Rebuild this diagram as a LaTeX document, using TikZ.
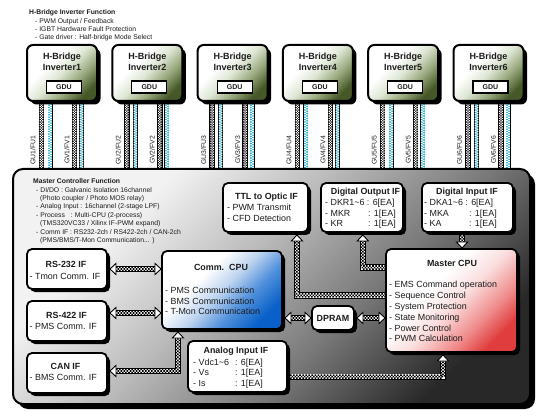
\documentclass[tikz,border=0pt]{standalone}
\usepackage{fontspec}
\setmainfont{Liberation Sans}
\usetikzlibrary{shadows,calc,decorations.markings}
\definecolor{cab}{RGB}{40,176,205}
\definecolor{inv1}{RGB}{70,88,40}
\definecolor{inv2}{RGB}{150,166,122}
\definecolor{inv3}{RGB}{222,230,212}
\definecolor{blu1}{RGB}{8,96,200}
\definecolor{blu2}{RGB}{80,144,220}
\definecolor{blu3}{RGB}{190,212,240}
\definecolor{red1}{RGB}{224,62,62}
\definecolor{red2}{RGB}{240,140,140}
\definecolor{red3}{RGB}{250,222,222}
\definecolor{gr1}{RGB}{40,40,40}
\definecolor{gr2}{RGB}{120,120,120}
\definecolor{gr3}{RGB}{186,186,186}
\definecolor{gr4}{RGB}{242,242,242}
\definecolor{txt}{RGB}{28,28,28}
\pgfdeclareverticalshading{invsh}{100bp}{color(0bp)=(inv1); color(25bp)=(inv1); color(37bp)=(inv2); color(50bp)=(inv3); color(62bp)=(white); color(100bp)=(white)}
\pgfdeclareverticalshading{blush}{100bp}{color(0bp)=(blu1); color(25bp)=(blu1); color(38bp)=(blu2); color(50bp)=(blu3); color(62bp)=(white); color(100bp)=(white)}
\pgfdeclareverticalshading{redsh}{100bp}{color(0bp)=(red1); color(25bp)=(red1); color(35bp)=(red2); color(48bp)=(red3); color(60bp)=(white); color(100bp)=(white)}
\pgfdeclareverticalshading{greysh}{100bp}{color(0bp)=(gr1); color(25bp)=(gr1); color(40bp)=(gr2); color(55bp)=(gr3); color(70bp)=(gr4); color(100bp)=(gr4)}
\pgfdeclarelayer{lcab}
\pgfdeclarelayer{lmain}
\pgfdeclarelayer{lflow}
\pgfsetlayers{lcab,lmain,lflow,main}
\tikzset{
  flow/.style={draw=black, line width=6.4pt, line join=miter,
    postaction={draw=white, line width=4.6pt, line join=miter},
    postaction={decorate, decoration={markings,
      mark=between positions 0 and 1 step 3.06pt with {%
        \fill[black] (0,-2.3pt) rectangle (1.53pt,-0.77pt)
          (1.53pt,-0.77pt) rectangle (3.06pt,0.77pt)
          (0,0.77pt) rectangle (1.53pt,2.3pt);}}}},
  ahE/.style={postaction={decorate, decoration={markings,
      mark=at position 1 with {%
        \draw[black, fill=white, line width=0.9pt, line join=miter]
          (0,-5.6pt) -- (6pt,0) -- (0,5.6pt) -- cycle;}}}},
  ahS/.style={postaction={decorate, decoration={markings,
      mark=at position 0 with {%
        \draw[black, fill=white, line width=0.9pt, line join=miter]
          (0,-5.6pt) -- (-6pt,0) -- (0,5.6pt) -- cycle;}}}},
  bcable/.style={draw=black, line width=5.4pt,
    postaction={decorate, decoration={markings,
      mark=between positions 0 and 1 step 2.4pt with {%
        \fill[white] (0,-1.8pt) rectangle (1.2pt,-0.6pt)
          (1.2pt,-0.6pt) rectangle (2.4pt,0.6pt)
          (0,0.6pt) rectangle (1.2pt,1.8pt);}}}},
  ccable/.style={draw=black, line width=5pt,
    postaction={draw=cab, line width=3.6pt},
    postaction={decorate, decoration={markings,
      mark=between positions 0 and 1 step 2.4pt with {%
        \fill[white] (0,-1.8pt) rectangle (1.2pt,0)
          (1.2pt,0) rectangle (2.4pt,1.8pt);}}}},
  shd/.style={drop shadow={shadow xshift=#1, shadow yshift=-#1, fill=black, opacity=1}},
  mainbox/.style={draw=black, line width=2pt, rounded corners=10pt, shape=rectangle, inner sep=0, outer sep=0,
    shade, shading=greysh, shading angle=45, shd=5pt},
  invbox/.style={draw=black, line width=2pt, rounded corners=6pt, inner sep=0, outer sep=0,
    minimum width=70pt, minimum height=56pt,
    shade, shading=invsh, shading angle=45, shd=3.5pt},
  gdubox/.style={draw=black, line width=1.1pt, fill=white, inner sep=0, outer sep=0,
    minimum width=35pt, minimum height=12pt, font=\fontsize{7}{8}\selectfont\bfseries},
  ifbox/.style={draw=black, line width=1.8pt, rounded corners=5pt, fill=white, inner sep=0, outer sep=0, shd=3pt},
  hd/.style={font=\fontsize{8.9}{10.7}\selectfont\bfseries, inner sep=0, anchor=base},
  bd/.style={font=\fontsize{8.9}{10.7}\selectfont, inner sep=0, anchor=north west, align=left},
  sm/.style={font=\fontsize{6.8}{8.4}\selectfont, inner sep=0, anchor=north west, align=left},
  cl/.style={font=\fontsize{6.8}{7.5}\selectfont, inner sep=0, rotate=90},
}
\begin{document}
\begin{tikzpicture}[x=1pt,y=-1pt, every node/.style={text=txt}]
\useasboundingbox (0,0) rectangle (550,420);
\begin{pgfonlayer}{lcab}
\fill[white] (0,0) rectangle (550,420);
\end{pgfonlayer}
% main controller box
\begin{pgfonlayer}{lmain}
\node[mainbox, minimum width=517pt, minimum height=235pt] (main) at (271.5,286.5) {};
\end{pgfonlayer}
% top text
\node[sm] (toptxt) at (29,9.5) {\textbf{H-Bridge Inverter Function}\\\hspace*{6pt}- PWM Output / Feedback\\\hspace*{6pt}- IGBT Hardware Fault Protection\\\hspace*{6pt}- Gate driver : Half-bridge Mode Select};
% inverters and cables
\foreach \k/\L in {1/27,2/112.3,3/197.6,4/282.9,5/368.2,6/453.5}{
  \node[invbox] (inv\k) at (\L+35,73) {};
  \node[font=\fontsize{9}{11}\selectfont\bfseries, align=center, inner sep=0, anchor=north] (invt\k) at (\L+35,52.8) {H-Bridge\\Inverter\k};
  \node[gdubox] (gdu\k) at (\L+37,87) {GDU};
  \node[cl] (gu\k) at (\L+6,150) {GU\k/FU\k};
  \node[cl] (gv\k) at (\L+40,150) {GV\k/FV\k};
  \coordinate (ca\k) at ($(inv\k.south west)+(14.5,0)$);
  \coordinate (cb\k) at ($(inv\k.south west)+(23,0)$);
  \coordinate (cc\k) at ($(inv\k.south west)+(47.5,0)$);
  \coordinate (cd\k) at ($(inv\k.south west)+(54.5,0)$);
  \begin{pgfonlayer}{lcab}
    \draw[bcable] (ca\k) -- (ca\k |- main.north);
    \draw[ccable] (cb\k) -- (cb\k |- main.north);
    \draw[bcable] (cc\k) -- (cc\k |- main.north);
    \draw[ccable] (cd\k) -- (cd\k |- main.north);
  \end{pgfonlayer}
}
% master controller text
\node[sm] (mctxt) at (33,178.5) {\textbf{Master Controller Function}\\
\hspace*{3pt}- DI/DO : Galvanic Isolation 16channel\\
\hspace*{7pt}(Photo coupler / Photo MOS relay)\\
\hspace*{3pt}- Analog Input : 16channel (2-stage LPF)\\
\hspace*{3pt}- Process \ \ : Multi-CPU (2-process)\\
\hspace*{7pt}(TMS320VC33 / Xilinx IF-PWM expand)\\
\hspace*{3pt}- Comm IF : RS232-2ch / RS422-2ch / CAN-2ch\\
\hspace*{7pt}(PMS/BMS/T-Mon Communication... )};
% TTL to Optic
\node[ifbox, minimum width=85pt, minimum height=49pt] (ttl) at (265.5,207.5) {};
\node[hd] (ttlh) at (266.5,199.2) {TTL to Optic IF};
\node[bd] (ttlb) at (227,203.9) {- PWM Transmit\\- CFD Detection};
% Digital output
\node[ifbox, minimum width=82pt, minimum height=49pt] (dout) at (362,207.5) {};
\node[hd] (douth) at (365.5,194.2) {Digital Output IF};
\node[bd, font=\fontsize{8.9}{10.5}\selectfont] (doutb) at (325,198.9) {- DKR1\textasciitilde6 : 6[EA]\\\makebox[43pt][l]{- MKR}: 1[EA]\\\makebox[43pt][l]{- KR}: 1[EA]};
% Digital input
\node[ifbox, minimum width=91pt, minimum height=49pt] (dinp) at (467.5,207.5) {};
\node[hd] (dinph) at (467,194.2) {Digital Input IF};
\node[bd, font=\fontsize{8.9}{10.5}\selectfont] (dinpb) at (424,198.9) {- DKA1\textasciitilde6 : 6[EA]\\\makebox[45pt][l]{- MKA}: 1[EA]\\\makebox[45pt][l]{- KA}: 1[EA]};
% RS-232 / RS-422 / CAN
\node[ifbox, minimum width=80pt, minimum height=40pt] (rs232) at (67,269) {};
\node[hd] (rs232h) at (66,267.2) {RS-232 IF};
\node[bd] (rs232b) at (29.5,272.85) {- Tmon Comm. IF};
\node[ifbox, minimum width=80pt, minimum height=40pt] (rs422) at (67,321) {};
\node[hd] (rs422h) at (66.5,318.2) {RS-422 IF};
\node[bd] (rs422b) at (29.5,322.85) {- PMS Comm. IF};
\node[ifbox, minimum width=80pt, minimum height=40pt] (can) at (67,373) {};
\node[hd] (canh) at (65.5,369.2) {CAN IF};
\node[bd] (canb) at (29.5,373.85) {- BMS Comm. IF};
% Comm CPU
\node[ifbox, minimum width=120pt, minimum height=78pt, shade, shading=blush, shading angle=45] (comm) at (222,290) {};
\node[hd] (commh) at (221,270.2) {Comm.\ \ CPU};
\node[bd, font=\fontsize{8.9}{10.6}\selectfont] (commb) at (165,286.85) {- PMS Communication\\- BMS Communication\\- T-Mon Communication};
% DPRAM
\node[ifbox, minimum width=42pt, minimum height=24pt, font=\fontsize{8.9}{10}\selectfont\bfseries] (dpram) at (333,318) {DPRAM};
% Master CPU
\node[ifbox, minimum width=131pt, minimum height=103pt, shade, shading=redsh, shading angle=45] (master) at (451.5,300.5) {};
\node[hd] (masterh) at (452,266.2) {Master CPU};
\node[bd, font=\fontsize{8.9}{10.9}\selectfont] (masterb) at (389,280.8) {- EMS Command operation\\- Sequence Control\\- System Protection\\- State Monitoring\\- Power Control\\- PWM Calculation};
% Analog input
\node[ifbox, minimum width=99pt, minimum height=51pt] (analog) at (237.5,366.5) {};
\node[hd] (analogh) at (236,353.2) {Analog Input IF};
\node[bd, font=\fontsize{8.9}{10.5}\selectfont] (analogb) at (193,358.85) {\makebox[42pt][l]{- Vdc1\textasciitilde6}: 6[EA]\\\makebox[42pt][l]{- Vs}: 1[EA]\\\makebox[42pt][l]{- Is}: 1[EA]};
% connectors
\coordinate (r4) at ($(rs422.north east)!0.3!(rs422.south east)$);
\coordinate (cn) at ($(can.north east)!0.45!(can.south east)$);
\coordinate (cc) at ($(comm.south west)!0.133!(comm.south east)$);
\coordinate (m6) at ($(master.north west)!0.45!(master.south west)$);
\coordinate (t6) at ($(ttl.south west)!0.87!(ttl.south east)$);
\coordinate (m7) at ($(master.north west)!0.18!(master.south west)$);
\coordinate (t7) at ($(dout.south west)!0.51!(dout.south east)$);
\coordinate (t8) at ($(dinp.south west)!0.44!(dinp.south east)$);
\coordinate (a9) at ($(analog.north east)!0.7!(analog.south east)$);
\coordinate (t9) at ($(master.south west)!0.435!(master.south east)$);
\begin{pgfonlayer}{lflow}
\draw[flow,ahS,ahE] ([xshift=9pt]rs232.east) -- ([xshift=-7pt]rs232.east -| comm.west);
\draw[flow,ahS,ahE] ([xshift=9pt]r4) -- ([xshift=-7pt]r4 -| comm.west);
\draw[flow,ahS,ahE] ([xshift=9pt]cn) -| ([yshift=-9pt]cc);
\draw[flow,ahS,ahE] ([xshift=9pt]comm.east |- dpram.west) -- ([xshift=-7pt]dpram.west);
\draw[flow,ahS,ahE] ([xshift=9pt]dpram.east) -- ([xshift=-7pt]dpram.east -| master.west);
\draw[flow,ahE] (m6) -| ([yshift=-9pt]t6);
\draw[flow,ahE] (m7) -| ([yshift=-9pt]t7);
\draw[flow,ahE] (t8) -- ([yshift=7pt]t8 |- master.north);
\draw[flow,ahE] (a9) -| ([yshift=-9pt]t9);
\end{pgfonlayer}
\end{tikzpicture}
\end{document}
